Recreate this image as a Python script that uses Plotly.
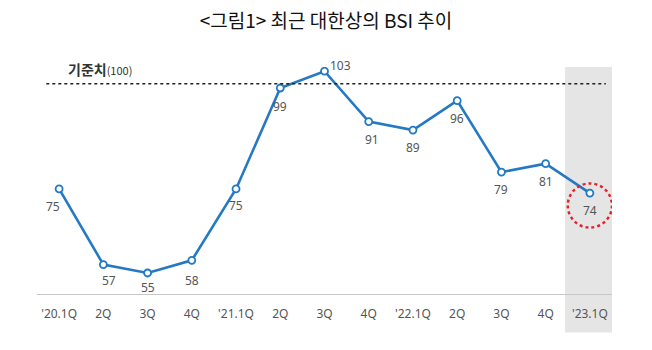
import plotly.graph_objects as go

tick_text = ["'20.1Q", "2Q", "3Q", "4Q", "'21.1Q", "2Q", "3Q", "4Q", "'22.1Q", "2Q", "3Q", "4Q", "'23.1Q"]
bsi = [75, 57, 55, 58, 75, 99, 103, 91, 89, 96, 79, 81, 74]
baseline = 100
# label offsets (pixels) per point
lab_dx = [-6, 6, 0, 0, 0, 0, 16, 3, 0, 0, 0, 0, 0]
lab_dy = [-18, -16, -15, -20, -17, -18, 6, -18, -17, -18, -17, -18, -17]

xs = list(range(len(bsi)))

fig = go.Figure()
fig.add_trace(go.Scatter(
    x=xs, y=bsi, mode="lines+markers",
    line=dict(color="#2379c4", width=2.6),
    marker=dict(size=7, color="white", line=dict(color="#2379c4", width=1.8)),
    hoverinfo="skip", showlegend=False,
))

for i, v in enumerate(bsi):
    fig.add_annotation(x=xs[i], y=v, text=str(v), showarrow=False,
                       xshift=lab_dx[i], yshift=lab_dy[i],
                       font=dict(size=12, color="#555555", family="Noto Sans"))

shapes = []
shapes.append(dict(type="rect", xref="x", yref="paper", x0=11.44, x1=12.5, y0=-0.17, y1=1.0,
                   fillcolor="#e5e5e5", line=dict(width=0), layer="below"))
shapes.append(dict(type="line", xref="x", yref="y", x0=-0.29, x1=12.36, y0=baseline, y1=baseline,
                   line=dict(color="#222222", width=1.5, dash="dot")))
shapes.append(dict(type="circle", xref="x", yref="y", x0=11.5, x1=12.5, y0=65.8, y1=76.3,
                   line=dict(color="#e0242a", width=2.5, dash="dot")))
fig.update_layout(shapes=shapes)

fig.add_annotation(xref="paper", yref="paper", x=0.05, y=0.99, xanchor="left", yanchor="middle",
                   text="<b>기준치</b><span style='font-size:11px'>(100)</span>", showarrow=False,
                   font=dict(size=14, color="#333333", family="Noto Sans CJK KR"))

fig.update_layout(
    width=652, height=350,
    margin=dict(l=37, r=40, t=67, b=56),
    paper_bgcolor="white", plot_bgcolor="rgba(0,0,0,0)",
    title=dict(text="<그림1> 최근 대한상의 BSI 추이", x=0.5, xanchor="center", y=0.94, yanchor="middle",
               font=dict(size=19, color="#111111", family="Noto Sans CJK KR")),
    xaxis=dict(range=[-0.5, 12.5], tickmode="array", tickvals=xs, ticktext=tick_text,
               showgrid=False, zeroline=False, showline=True, linecolor="#c8c8c8", linewidth=1,
               ticks="", ticklabelstandoff=9,
               tickfont=dict(size=12, color="#555555", family="Noto Sans")),
    yaxis=dict(range=[50, 104], visible=False, showgrid=False, zeroline=False),
)

fig.write_html("out.html")
